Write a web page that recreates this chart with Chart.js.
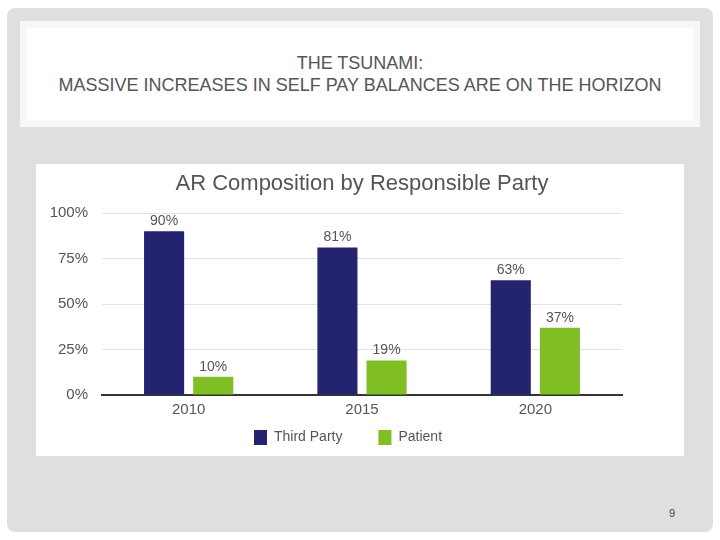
<!DOCTYPE html>
<html><head><meta charset="utf-8">
<script src="https://cdn.jsdelivr.net/npm/chart.js@4"></script>
<style>
html,body{margin:0;padding:0;background:#fff;width:720px;height:540px;overflow:hidden;font-family:"Liberation Sans",Arial,sans-serif}
#slide{position:absolute;left:7px;top:8px;width:706px;height:524px;background:#dfdfdf;border-radius:8px}
#titlebox{position:absolute;left:20px;top:21px;width:680px;height:106px;background:#f7f7f7}
#titleinner{position:absolute;left:7px;top:7px;width:666px;height:92px;background:#fff;text-align:center;color:#555;font-size:18px;line-height:22px;padding-top:24px;box-sizing:border-box}
#panel{position:absolute;left:36px;top:164px;width:648px;height:292px;background:#fff}
#ctitle{position:absolute;left:0;width:652px;top:6px;text-align:center;color:#555;font-size:22px;line-height:26px}
#c{position:absolute;left:0;top:0}
#pg{position:absolute;left:669px;top:507px;font-size:11px;color:#444}
</style></head><body>
<div id="slide"></div>
<div id="titlebox"><div id="titleinner">THE TSUNAMI:<br>MASSIVE INCREASES IN SELF PAY BALANCES ARE ON THE HORIZON</div></div>
<div id="panel"><canvas id="c" width="648" height="292"></canvas><div id="ctitle">AR Composition by Responsible Party</div></div>
<div id="pg">9</div>
<script>
const categories = ["2010", "2015", "2020"];
const thirdParty = [90, 81, 63];
const patient = [10, 19, 37];
const yTicks = [0, 25, 50, 75, 100];

const labelPlugin = {
  id: 'vlabels',
  afterLayout(chart) {
    const lg = chart.legend;
    if (lg) { lg.top -= 27; lg.bottom -= 27; lg.left += 19; lg.right += 19; }
  },
  afterDatasetsDraw(chart) {
    const ctx = chart.ctx;
    ctx.save();
    ctx.font = '14px "Liberation Sans", Arial, sans-serif';
    ctx.fillStyle = '#555';
    ctx.textAlign = 'center';
    ctx.textBaseline = 'bottom';
    chart.data.datasets.forEach((ds, i) => {
      chart.getDatasetMeta(i).data.forEach((bar, j) => {
        ctx.fillText(ds.data[j] + '%', bar.x, bar.y - 3);
      });
    });
    ctx.restore();
  }
};

new Chart(document.getElementById('c'), {
  type: 'bar',
  data: {
    labels: categories,
    datasets: [
      { label: 'Third Party', data: thirdParty, backgroundColor: '#23236f', categoryPercentage: 0.567, barPercentage: 0.816 },
      { label: 'Patient', data: patient, backgroundColor: '#7fbf24', categoryPercentage: 0.567, barPercentage: 0.816 }
    ]
  },
  options: {
    responsive: false,
    animation: false,
    events: [],
    layout: { padding: { left: 0, right: 62, top: 49, bottom: -26 } },
    plugins: {
      title: { display: false },
      legend: { position: 'bottom', labels: { boxWidth: 13, boxHeight: 15, padding: 36, color: '#555',
        font: { size: 14, family: '"Liberation Sans", Arial, sans-serif' } } },
      tooltip: { enabled: false }
    },
    scales: {
      x: {
        afterFit(s) { s.height = 26; },
        grid: { display: false, drawTicks: false },
        border: { display: true, color: '#333', width: 2 },
        ticks: { color: '#555', padding: 6, font: { size: 15, family: '"Liberation Sans", Arial, sans-serif' } }
      },
      y: {
        min: 0, max: 100,
        afterBuildTicks(s) { s.ticks = yTicks.map(v => ({ value: v })); },
        afterFit(s) { s.width = 66; },
        grid: { color: '#e2e2e2', drawTicks: false },
        border: { display: false },
        ticks: { color: '#555', padding: 14, callback: v => v + '%', font: { size: 15, family: '"Liberation Sans", Arial, sans-serif' } }
      }
    }
  },
  plugins: [labelPlugin]
});
</script>
</body></html>
